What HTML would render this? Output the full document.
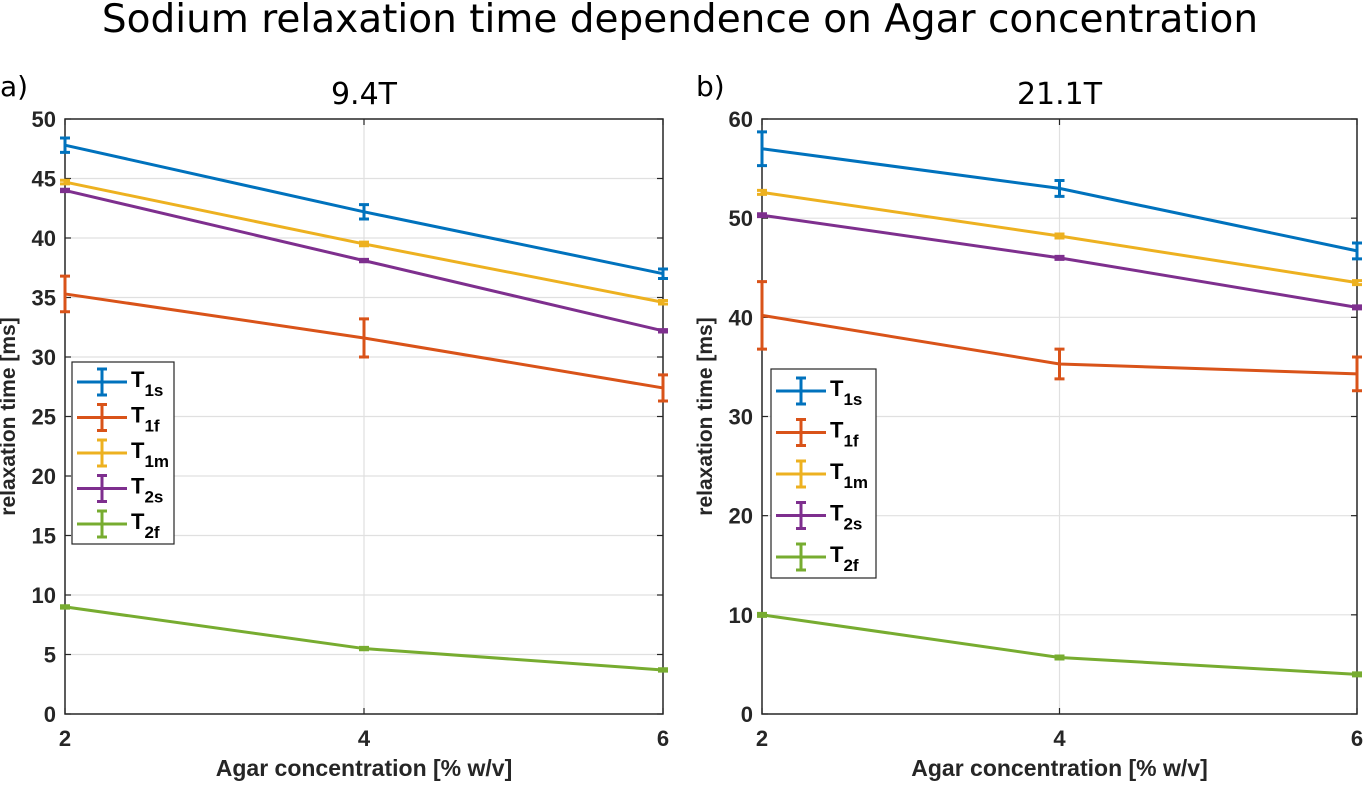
<!DOCTYPE html>
<html><head><meta charset="utf-8"><style>
body{margin:0;background:#fff;}
svg{display:block;font-family:"Liberation Sans",Arial,sans-serif;}
</style></head><body>
<svg id="fig" width="1363" height="786" viewBox="0 0 1363 786">
<text x="680" y="32" text-anchor="middle" font-size="39" fill="#000" font-family="DejaVu Sans, Liberation Sans, sans-serif">Sodium relaxation time dependence on Agar concentration</text>
</svg>
<script>
const xCats=[2,4,6];
const series=['T1s','T1f','T1m','T2s','T2f'];
const subs=['1s','1f','1m','2s','2f'];
const colors=['#0072BD','#D95319','#EDB120','#7E2F8E','#77AC30'];
const leftVals=[[47.8,42.2,37.0],[35.3,31.6,27.4],[44.7,39.5,34.6],[44.0,38.1,32.2],[9.0,5.5,3.7]];
const leftErr=[[0.6,0.6,0.4],[1.5,1.6,1.1],[0.15,0.15,0.15],[0.1,0.1,0.1],[0.1,0.1,0.1]];
const rightVals=[[57.0,53.0,46.7],[40.2,35.3,34.3],[52.6,48.2,43.5],[50.3,46.0,41.0],[10.0,5.7,4.0]];
const rightErr=[[1.7,0.8,0.8],[3.4,1.5,1.7],[0.2,0.2,0.2],[0.15,0.15,0.15],[0.15,0.15,0.15]];
const leftTicks=[0,5,10,15,20,25,30,35,40,45,50];
const rightTicks=[0,10,20,30,40,50,60];
const NS='http://www.w3.org/2000/svg';
const svg=document.getElementById('fig');
function el(t,a,p){const e=document.createElementNS(NS,t);for(const k in a)e.setAttribute(k,a[k]);(p||svg).appendChild(e);return e;}
function panel(cfg){
  const g=el('g',{});
  
  
  const X=v=>cfg.x0+(v-2)/4*(cfg.x1-cfg.x0);
  const Y=v=>cfg.y1-(v/cfg.ymax)*(cfg.y1-cfg.y0);
  el('rect',{x:cfg.x0,y:cfg.y0,width:cfg.x1-cfg.x0,height:cfg.y1-cfg.y0,fill:'#fff'},g);
  cfg.ticks.forEach(t=>{
    const y=Y(t);
    if(t>0&&t<cfg.ymax){const l=el('line',{x1:cfg.x0,x2:cfg.x1,y1:y,y2:y,stroke:'#e0e0e0','stroke-width':1.2},g);
    }
    el('line',{x1:cfg.x0,x2:cfg.x0+6,y1:y,y2:y,stroke:'#262626','stroke-width':1.2},g);
    el('line',{x1:cfg.x1,x2:cfg.x1-6,y1:y,y2:y,stroke:'#262626','stroke-width':1.2},g);
    const tx=el('text',{x:cfg.x0-9,y:y+8,'text-anchor':'end','font-size':22,'font-weight':'bold',fill:'#262626'},g);
    tx.textContent=t;
    
  });
  xCats.forEach(c=>{
    const x=X(c);
    if(c===4){el('line',{x1:x,x2:x,y1:cfg.y0,y2:cfg.y1,stroke:'#e0e0e0','stroke-width':1.2},g);}
    el('line',{x1:x,x2:x,y1:cfg.y1,y2:cfg.y1-6,stroke:'#262626','stroke-width':1.2},g);
    el('line',{x1:x,x2:x,y1:cfg.y0,y2:cfg.y0+6,stroke:'#262626','stroke-width':1.2},g);
    const tx=el('text',{x:x,y:cfg.y1+32,'text-anchor':'middle','font-size':22,'font-weight':'bold',fill:'#262626'},g);
    tx.textContent=c;
    
  });
  el('rect',{x:cfg.x0,y:cfg.y0,width:cfg.x1-cfg.x0,height:cfg.y1-cfg.y0,fill:'none',stroke:'#262626','stroke-width':1.5},g);
  cfg.vals.forEach((vals,i)=>{
    const pts=vals.map((v,j)=>X(xCats[j])+','+Y(v)).join(' ');
    const pl=el('polyline',{points:pts,fill:'none',stroke:colors[i],'stroke-width':3},g);
    
    vals.forEach((v,j)=>{
      const x=X(xCats[j]),e=cfg.err[i][j];
      const eb=el('path',{d:`M${x},${Y(v+e)}V${Y(v-e)}M${x-5},${Y(v+e)}H${x+5}M${x-5},${Y(v-e)}H${x+5}`,stroke:colors[i],'stroke-width':3,fill:'none'},g);
      
    });
  });
  const lg=el('g',{},g);
  
  el('rect',{x:cfg.lx,y:cfg.ly,width:cfg.lw,height:cfg.lh,fill:'#fff',stroke:'#262626','stroke-width':1.2},lg);
  series.forEach((s,i)=>{
    const yy=cfg.ly+cfg.l0+i*cfg.ls;const x1=cfg.lx+5,x2=cfg.lx+55,xm=(x1+x2)/2;
    const en=el('g',{},lg);
    
    el('path',{d:`M${x1},${yy}H${x2}M${xm},${yy-13}V${yy+13}M${xm-5},${yy-13}H${xm+5}M${xm-5},${yy+13}H${xm+5}`,stroke:colors[i],'stroke-width':3,fill:'none'},en);
    const t=el('text',{x:x2+4,y:yy+5,'font-size':22,'font-weight':'bold',fill:'#000'},en);
    t.innerHTML='T<tspan font-size="17" dy="9">'+subs[i]+'</tspan>';
  });
  const xl=el('text',{x:(cfg.x0+cfg.x1)/2,y:cfg.y1+62,'text-anchor':'middle','font-size':23,'font-weight':'bold',fill:'#262626'},g);
  xl.textContent='Agar concentration [% w/v]';
  const yl=el('text',{transform:`translate(${cfg.x0-50},${(cfg.y0+cfg.y1)/2}) rotate(-90)`,'text-anchor':'middle','font-size':21,'font-weight':'bold',fill:'#262626'},g);
  yl.textContent='relaxation time [ms]';
  const st=el('text',{x:(cfg.x0+cfg.x1)/2,y:104,'text-anchor':'middle','font-size':30,fill:'#000','font-family':'DejaVu Sans, Liberation Sans, sans-serif'},g);
  st.textContent=cfg.title;
  const pl=el('text',{x:cfg.labx,y:96,'font-size':28,fill:'#000','font-family':'DejaVu Sans, Liberation Sans, sans-serif'},g);
  pl.textContent=cfg.lab;
}
panel({name:'panel-9-4T',x0:65,x1:663,y0:119,y1:714,ymax:50,ticks:leftTicks,vals:leftVals,err:leftErr,lx:72,ly:362,lw:102,lh:182,l0:20,ls:35.5,title:'9.4T',lab:'a)',labx:0});
panel({name:'panel-21-1T',x0:762,x1:1357,y0:119,y1:714,ymax:60,ticks:rightTicks,vals:rightVals,err:rightErr,lx:771,ly:369,lw:105,lh:209,l0:22,ls:41.5,title:'21.1T',lab:'b)',labx:696});
</script>
</body></html>
